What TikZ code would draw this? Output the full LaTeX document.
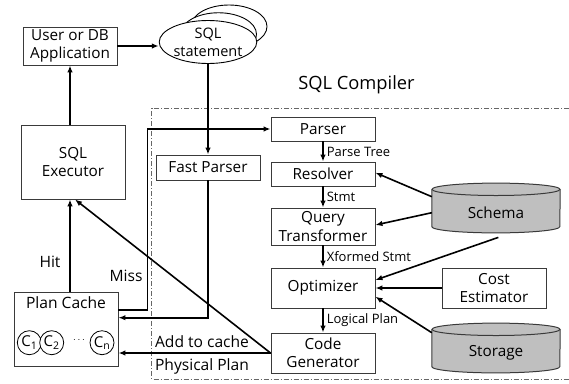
\documentclass[tikz,border=0pt]{standalone}
\usepackage{fontspec}
\setmainfont{Open Sans}
\usetikzlibrary{arrows.meta,calc,shapes.geometric}
\definecolor{edge}{HTML}{3A3A3A}
\definecolor{drum}{HTML}{BFBFBF}
\begin{document}
\begin{tikzpicture}[x=1pt,y=-1pt,
  box/.style={draw=edge, line width=0.9pt, fill=white, minimum width=104pt,
    inner sep=0pt, align=center, font=\fontsize{15.3}{18.5}\selectfont},
  arr/.style={line width=1.6pt, -{Latex[length=7pt,width=5.5pt]}},
  lbl/.style={font=\fontsize{13}{15}\selectfont, inner sep=0pt},
  big/.style={font=\fontsize{15.6}{18}\selectfont, inner sep=0pt},
  cachecell/.style={circle, draw=black, line width=0.8pt, fill=white, minimum size=24pt,
    inner sep=0pt, font=\fontsize{15}{17}\selectfont},
  frame/.style={draw=black!60, line width=1pt, dash pattern=on 5pt off 2pt on 1pt off 2pt},
  stmtshape/.style={draw=black, line width=0.9pt, fill=white}]
\useasboundingbox (0,0) rectangle (569,383);

% compiler frame (open on the right)
\draw[frame] (569,108.3) -- (151.7,108.3) -- (151.7,379) -- (569,379);
\node[font=\fontsize{18.3}{20}\selectfont] (title) at (356.5,85) {SQL Compiler};

% client side
\node[box, minimum width=94pt, minimum height=38pt] (user) at (70,46) {User or DB\\Application};
\draw[stmtshape] (229,26.5) ellipse [x radius=38pt, y radius=21.5pt];
\draw[stmtshape] (218.5,34.25) ellipse [x radius=38pt, y radius=21.5pt];
\node[ellipse, stmtshape, minimum width=76pt, minimum height=43pt, inner sep=0pt, align=center,
  font=\fontsize{14.5}{18}\selectfont] (stmt) at (208,42) {SQL\\statement};

\node[box, minimum height=74pt] (executor) at (73,162) {SQL\\Executor};
\node[box, minimum height=74pt] (plancache) at (66,329) {};
\node[big] (pctitle) at (66,303) {Plan Cache};
\node[cachecell] (c1) at (29.3,342.7) {C\textsubscript{1}};
\node[cachecell] (c2) at (51.7,342.7) {C\textsubscript{2}};
\node[cachecell] (cn) at (102,342.7) {C\textsubscript{n}};
\node[inner sep=0pt, font=\fontsize{10}{12}\selectfont] (dots) at (79,341) {\raisebox{2pt}{$\cdots$}};

% compiler pipeline
\node[box, minimum height=25pt] (fast) at (208,167.5) {Fast Parser};
\node[box, minimum height=24pt] (parser) at (323,129) {Parser};
\node[box, minimum height=24pt] (resolver) at (323,174) {Resolver};
\node[box, minimum height=37pt] (qt) at (323,226.5) {Query\\Transformer};
\node[box, minimum height=40pt] (opt) at (323,288) {Optimizer};
\node[box, minimum height=40pt] (codegen) at (323,353) {Code\\Generator};
\node[box, minimum height=40pt] (cost) at (494,288) {Cost\\Estimator};

% catalog drums
\foreach \name/\cy/\txt in {schema/208/Schema, storage/348/Storage}{
  \node[minimum width=128pt, minimum height=49.4pt, inner sep=0pt] (\name) at (496,\cy) {};
  \fill[drum] ($(\name.north west)+(0,6.2)$) -- ($(\name.south west)+(0,-6.2)$)
    arc[start angle=180, end angle=360, x radius=64pt, y radius=6.2pt]
    -- ($(\name.north east)+(0,6.2)$)
    arc[start angle=0, end angle=180, x radius=64pt, y radius=6.2pt] -- cycle;
  \draw[edge, line width=1pt] ($(\name.north west)+(0,6.2)$) -- ($(\name.south west)+(0,-6.2)$)
    arc[start angle=180, end angle=360, x radius=64pt, y radius=6.2pt]
    -- ($(\name.north east)+(0,6.2)$);
  \draw[edge, line width=1pt] ($(\name.north)+(0,6.2)$) ellipse [x radius=64pt, y radius=6.2pt];
  \node[font=\fontsize{15.3}{18}\selectfont] at ($(\name.center)+(0,5)$) {\txt};
}

% client connectors
\draw[arr] (user.east) -- (user.east -| stmt.west);
\draw[arr] (executor.north -| user.south) -- (user.south);
\draw[arr] (plancache.north -| user.south) -- (executor.south -| user.south);
\node[big] (hit) at (50,262) {Hit};
\draw[arr] (stmt.south) -- (fast.north);
\draw[arr] (fast.south) |- ($(plancache.east)+(0,-11.3)$);
\draw[arr] ($(plancache.east)+(0,-19)$) -- ++(29,0) |- (parser.west);
\node[big] (miss) at (126,276) {Miss};

% pipeline connectors
\draw[arr] (parser) -- (resolver) node[lbl, midway, right=3pt] {Parse Tree};
\draw[arr] (resolver) -- (qt) node[lbl, midway, right=3pt] {Stmt};
\draw[arr] (qt) -- (opt) node[lbl, midway, right=3pt] {Xformed Stmt};
\draw[arr] (opt) -- (codegen) node[lbl, midway, right=3pt] {Logical Plan};

\draw[arr] ($(schema.west)+(0,-11.3)$) -- ($(resolver.east)+(0,-1.3)$);
\draw[arr] ($(schema.west)+(0,4.7)$) -- ($(qt.east)+(0,-1.5)$);
\draw[arr] ($(schema.south)+(2.3,4.5)$) -- ($(opt.east)+(0,-8)$);
\draw[arr] (cost.west) -- (opt.east);
\draw[arr] ($(storage.west)+(0,-15.3)$) -- ($(opt.east)+(0,8.7)$);

% results back to the executor and the cache
\draw[arr] (codegen.west) -- (codegen.west -| plancache.east);
\node[big] (addlbl) at (202,341.7) {Add to cache};
\node[big] (physlbl) at (202,366) {Physical Plan};
\draw[arr] (codegen.west) -- ($(executor.south)+(2,0)$);
\end{tikzpicture}
\end{document}
